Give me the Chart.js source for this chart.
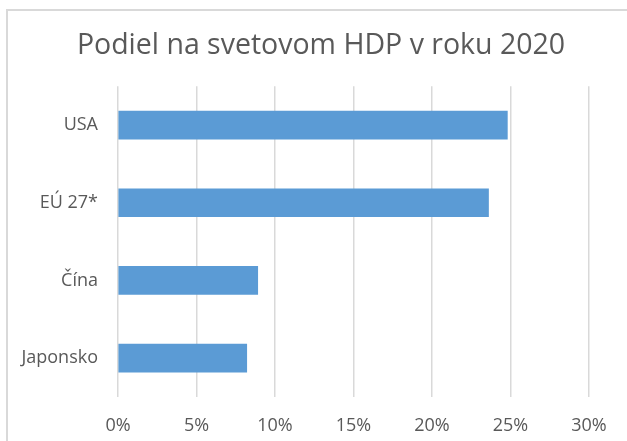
<!DOCTYPE html>
<html>
<head>
<meta charset="utf-8">
<script src="https://cdn.jsdelivr.net/npm/chart.js@4"></script>
<style>
  body { margin: 0; background: #fff; }
  #wrap { position: relative; width: 627px; height: 441px; overflow: hidden; }
  #frame { position: absolute; left: 6px; top: 9px; width: 700px; height: 500px;
           border-left: 2px solid #d9d9d9; border-top: 2px solid #d9d9d9; }
  canvas { position: absolute; left: 0; top: 0; }
</style>
</head>
<body>
<div id="wrap">
  <div id="frame"></div>
  <canvas id="chart" width="627" height="441"></canvas>
</div>
<script>
// Share of world GDP in 2020
const categories = ['USA', 'EÚ 27*', 'Čína', 'Japonsko'];
const shares = [24.8, 23.6, 8.9, 8.2];
const tickValues = [0, 5, 10, 15, 20, 25, 30];

const textColor = '#595959';
const fontFamily = '"Open Sans", sans-serif';

new Chart(document.getElementById('chart'), {
  type: 'bar',
  data: {
    labels: categories,
    datasets: [{
      data: shares,
      backgroundColor: '#5b9bd5',
      barThickness: 28,
    }]
  },
  options: {
    indexAxis: 'y',
    responsive: false,
    animation: false,
    // left padding keeps the title centred like the original
    layout: { padding: { left: 15, right: 0, top: 0, bottom: 4 } },
    plugins: {
      legend: { display: false },
      tooltip: { enabled: false },
      title: {
        display: true,
        text: 'Podiel na svetovom HDP v roku 2020',
        color: textColor,
        font: { family: fontFamily, size: 28.5, weight: 'normal' },
        padding: { top: 29, bottom: 23 },
      }
    },
    scales: {
      x: {
        min: 0,
        max: 30,
        afterBuildTicks: (axis) => { axis.ticks = tickValues.map(v => ({ value: v })); },
        afterFit: (axis) => { axis.height = 40; },
        grid: { color: '#d9d9d9', lineWidth: 1.5, drawTicks: false },
        border: { display: false },
        ticks: {
          color: textColor,
          padding: 18,
          font: { family: fontFamily, size: 18 },
          callback: (v) => v + '%',
        }
      },
      y: {
        grid: { display: false, drawTicks: false },
        border: { display: false },
        afterFit: (axis) => { axis.width = 103; },
        ticks: {
          color: textColor,
          padding: 20,
          font: { family: fontFamily, size: 18 },
        }
      },
      // empty spacer on the right, leaves room after the 30% gridline
      y2: {
        position: 'right',
        grid: { display: false, drawTicks: false },
        border: { display: false },
        ticks: { display: false },
        afterFit: (axis) => { axis.width = 38; },
      }
    }
  }
});
</script>
</body>
</html>
